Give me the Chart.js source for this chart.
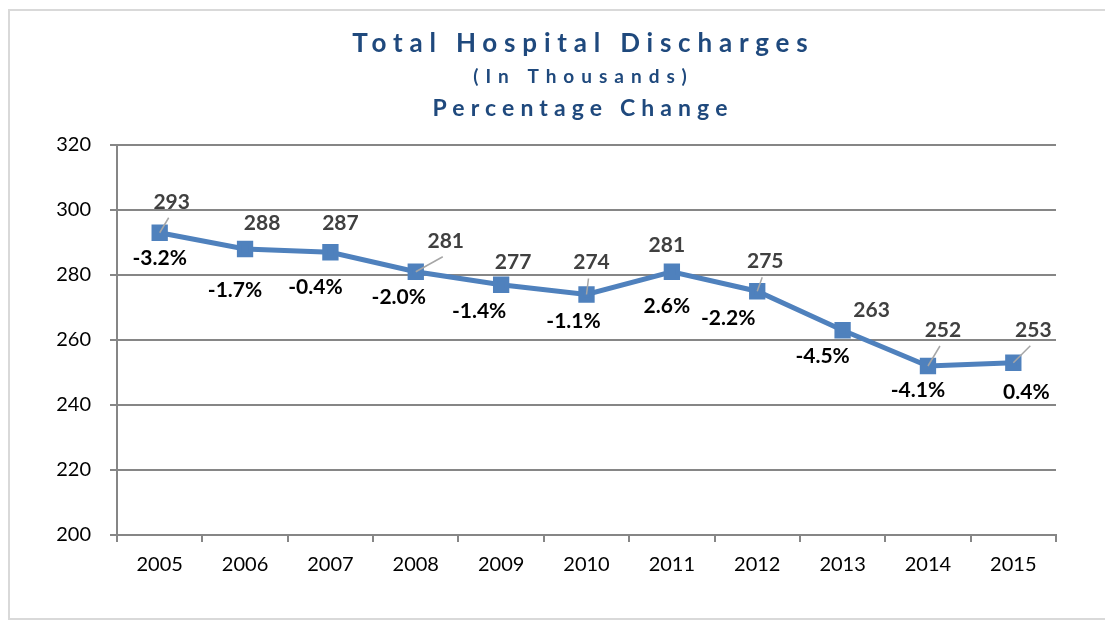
<!DOCTYPE html>
<html>
<head>
<meta charset="utf-8">
<script src="https://cdn.jsdelivr.net/npm/chart.js@4/dist/chart.umd.min.js"></script>
<style>
  html, body { margin: 0; padding: 0; background: #fff; }
  #wrap { position: relative; width: 1105px; height: 623px; }
  #frame { position: absolute; left: 8px; top: 9px; width: 1110px; height: 611px; border: 2px solid #d9d9d9; box-sizing: border-box; }
</style>
</head>
<body>
<div id="wrap">
  <div id="frame"></div>
  <canvas id="dischargeChart" width="1105" height="623"></canvas>
</div>
<script>
// chart data
const years = ['2005', '2006', '2007', '2008', '2009', '2010', '2011', '2012', '2013', '2014', '2015'];
const discharges = [293, 288, 287, 281, 277, 274, 281, 275, 263, 252, 253];
const pctChange = [-3.2, -1.7, -0.4, -2.0, -1.4, -1.1, 2.6, -2.2, -4.5, -4.1, 0.4];
const yTicks = [200, 220, 240, 260, 280, 300, 320];

// label placement relative to each point (px)
const valueOffsets = [[12, -31], [17, -26], [10, -29], [30, -31], [12, -23], [5, -32], [-5, -27], [8, -30], [29, -20], [15, -36], [20, -33]];
const pctOffsets = [[0, 25], [-10, 41], [-15, 35], [-17, 25], [-22, 26], [-13, 27], [-5, 34], [-29, 27], [-20, 26], [-10, 24], [13, 29]];
const leaders = [true, false, false, true, false, true, false, true, false, true, true];

const FONT = 'Lato, "Liberation Sans", sans-serif';

const titlePlugin = {
    id: 'titleLines',
    afterDraw(chart) {
        const ctx = chart.ctx;
        const lines = [
            { text: 'Total Hospital Discharges', size: 26, y: 44, spacing: 6.8 },
            { text: '(In Thousands)', size: 19, y: 77, spacing: 7 },
            { text: 'Percentage Change', size: 23, y: 109, spacing: 6.1 }
        ];
        ctx.save();
        ctx.fillStyle = '#1F497D';
        ctx.textAlign = 'center';
        ctx.textBaseline = 'middle';
        lines.forEach(l => {
            ctx.font = 'bold ' + l.size + 'px ' + FONT;
            ctx.letterSpacing = l.spacing + 'px';
            ctx.fillText(l.text, 580 + l.spacing / 2, l.y);
        });
        ctx.restore();
    }
};

const labelPlugin = {
    id: 'pointLabels',
    afterDatasetsDraw(chart) {
        const ctx = chart.ctx;
        const meta = chart.getDatasetMeta(0);
        ctx.save();
        ctx.textAlign = 'center';
        ctx.textBaseline = 'middle';
        meta.data.forEach((pt, i) => {
            const vx = pt.x + valueOffsets[i][0], vy = pt.y + valueOffsets[i][1];
            if (leaders[i]) {
                ctx.strokeStyle = '#a6a6a6';
                ctx.lineWidth = 1.5;
                ctx.beginPath();
                ctx.moveTo(pt.x, pt.y);
                ctx.lineTo(vx - 3, vy + 16);
                ctx.stroke();
            }
            ctx.font = 'bold 21px ' + FONT;
            ctx.fillStyle = '#404040';
            ctx.fillText(String(discharges[i]), vx, vy);
            ctx.fillStyle = '#000';
            ctx.fillText(pctChange[i].toFixed(1) + '%', pt.x + pctOffsets[i][0], pt.y + pctOffsets[i][1]);
        });
        ctx.restore();
    }
};

const ctx = document.getElementById('dischargeChart').getContext('2d');
const chart = new Chart(ctx, {
    type: 'line',
    data: {
        labels: years,
        datasets: [{
            data: discharges,
            borderColor: '#4F81BD',
            backgroundColor: '#4F81BD',
            borderWidth: 5,
            pointStyle: 'rect',
            pointRadius: 8,
            pointHoverRadius: 8,
            tension: 0,
            fill: false
        }]
    },
    options: {
        responsive: false,
        animation: false,
        layout: { padding: { top: 145, right: 49, left: 0, bottom: 0 } },
        plugins: {
            legend: { display: false },
            tooltip: { enabled: false }
        },
        scales: {
            x: {
                offset: true,
                grid: {
                    offset: true,
                    drawOnChartArea: false,
                    drawTicks: true,
                    tickLength: 7,
                    color: '#868686',
                    lineWidth: 2
                },
                border: { color: '#868686', width: 2 },
                ticks: { color: '#000', font: { family: FONT, size: 20 }, padding: 11, maxRotation: 0 },
                afterFit(scale) { scale.height = 88; }
            },
            y: {
                min: 200,
                max: 320,
                afterBuildTicks(scale) { scale.ticks = yTicks.map(v => ({ value: v })); },
                grid: { color: '#868686', lineWidth: 2, tickLength: 7 },
                border: { color: '#868686', width: 2 },
                ticks: { color: '#000', font: { family: FONT, size: 20 }, padding: 19 },
                afterFit(scale) { scale.width = 117; }
            }
        }
    },
    plugins: [titlePlugin, labelPlugin]
});
</script>
</body>
</html>
